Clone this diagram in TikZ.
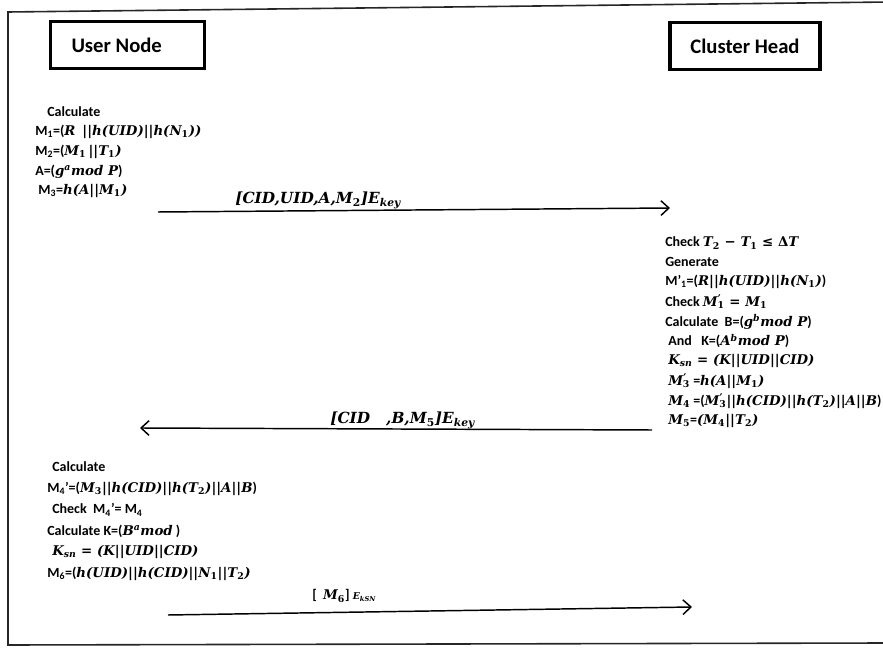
\documentclass[tikz,border=0pt]{standalone}
\usepackage{fontspec}
\setmainfont{Carlito}
\newfontfamily\mf{DejaVu Serif}
\newcommand{\mm}[1]{{\mf\fontsize{10}{12}\selectfont\bfseries\itshape #1}}
\newcommand{\ml}[1]{{\mf\fontsize{11.5}{14}\selectfont\bfseries\itshape #1}}
\newcommand{\sbs}[1]{\textsubscript{\upshape #1}}
\newcommand{\sbi}[1]{\textsubscript{#1}}
\newcommand{\sps}[1]{\textsuperscript{#1}}
\newcommand{\pr}[1]{\textsuperscript{’}\kern-0.3em\textsubscript{\upshape #1}}
\usetikzlibrary{arrows.meta}
\begin{document}
\begin{tikzpicture}[x=0.75pt,y=-0.75pt,
  frame/.style={line width=1.2pt,black!85},
  hdr/.style={draw,line width=2.4pt,minimum height=35pt,font=\fontsize{15.5}{18}\selectfont\bfseries},
  tx/.style={anchor=west,inner sep=0pt,font=\fontsize{10.5}{12}\selectfont\bfseries},
  lbl/.style={anchor=base west,inner sep=0pt,font=\fontsize{10.5}{12}\selectfont\bfseries},
  msg/.style={line width=1.1pt,-{Straight Barb[length=6pt,width=11pt,line width=1.1pt]}}]
\useasboundingbox (0,0) rectangle (883,648);
% outer frame
\coordinate (f1) at (8,645);
\coordinate (f2) at (8,12);
\coordinate (f3) at (890,2);
\coordinate (f4) at (890,643);
\draw[frame] (f4) -- (f1) -- (f2) -- (f3);
% header boxes
\node[hdr,minimum width=116pt] (user) at (127.5,45) {\makebox[84pt][l]{User Node}};
\node[hdr,minimum width=112.5pt] (ch) at (745,46) {Cluster Head};
% user block 1
\node[tx] (u1) at (47,112) {Calculate};
\node[tx] (u2) at (35,132) {M\sbs{1}=(\mm{R\, ||h(UID)||h(N\sbs{1}))}};
\node[tx] (u3) at (35,152) {M\sbs{2}=(\mm{M\sbs{1}\,||T\sbs{1})}};
\node[tx] (u4) at (35,172) {A=(\mm{g\sps{a}mod P})};
\node[tx] (u5) at (38,191) {M\sbs{3}=\mm{h(A||M\sbs{1})}};
% message 1
\coordinate (m1s) at (158,212);
\coordinate (m1e) at (670,208);
\draw[msg] (m1s) -- (m1e);
\node[lbl] (l1) at (235,204) {\ml{[CID,UID,A,M\sbs{2}]E\sbi{key}}};
% cluster head block
\node[tx] (c1) at (665,243) {Check \mm{T\sbs{2} {\upshape −} T\sbs{1} {\upshape ≤ Δ}T}};
\node[tx] (c2) at (665,262) {Generate};
\node[tx] (c3) at (665,282) {M’\sbs{1}=(\mm{R||h(UID)||h(N\sbs{1})})};
\node[tx] (c4) at (665,302) {Check \mm{M\pr{1} {\upshape =} M\sbs{1}}};
\node[tx] (c5) at (665,322) {Calculate\ \ B=(\mm{g\sps{b}mod P})};
\node[tx] (c6) at (668,341) {And\ \ \ K=(\mm{A\sps{b}mod P})};
\node[tx] (c7) at (668,361) {\mm{K\sbi{sn} {\upshape =} (K||UID||CID)}};
\node[tx] (c8) at (668,381) {\mm{M\pr{3}} =\mm{h(A||M\sbs{1})}};
\node[tx] (c9) at (668,401) {\mm{M\sbs{4}} =(\mm{M\pr{3}||h(CID)||h(T\sbs{2})||A||B})};
\node[tx] (c10) at (668,421) {\mm{M\sbs{5}}=\mm{(M\sbs{4}||T\sbs{2})}};
% message 2
\coordinate (m2s) at (652,430);
\coordinate (m2e) at (140,428);
\draw[msg] (m2s) -- (m2e);
\node[lbl] (l2) at (330,424) {\ml{[CID\ \ \ ,B,M\sbs{5}]E\sbi{key}}};
% user block 2
\node[tx] (v1) at (52,467) {Calculate};
\node[tx] (v2) at (47,489) {M\sbs{4}’=(\mm{M\sbs{3}||h(CID)||h(T\sbs{2})||A||B})};
\node[tx] (v3) at (52,510) {Check\ \ M\sbs{4}’= M\sbs{4}};
\node[tx] (v4) at (47,531) {Calculate K=(\mm{B\sps{a}mod} )};
\node[tx] (v5) at (52,552) {\mm{K\sbi{sn} {\upshape =} (K||UID||CID)}};
\node[tx] (v6) at (47,574) {M\sbs{6}=(\mm{h(UID)||h(CID)||N\sbs{1}||T\sbs{2})}};
% message 3
\coordinate (m3s) at (168,615);
\coordinate (m3e) at (692,607);
\draw[msg] (m3s) -- (m3e);
\node[lbl] (l3) at (312,600) {[\ \ \mm{M\sbs{6}}] {\mf\bfseries\itshape\fontsize{7}{8}\selectfont E\sbi{kSN}}};
\end{tikzpicture}
\end{document}
